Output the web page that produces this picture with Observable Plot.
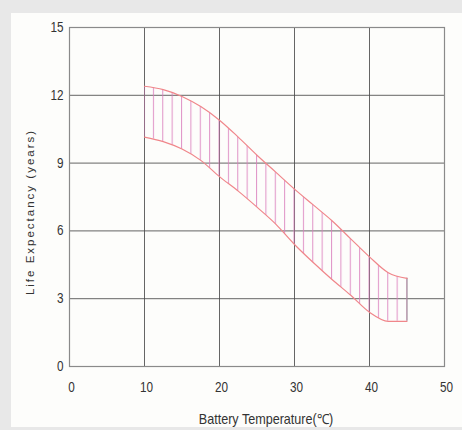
<!DOCTYPE html>
<html>
<head>
<meta charset="utf-8">
<script src="https://cdn.jsdelivr.net/npm/d3@7"></script>
<script src="https://cdn.jsdelivr.net/npm/@observablehq/plot@0.6"></script>
<style>
  html, body { margin: 0; padding: 0; background: #e8e8e8; width: 462px; height: 430px; overflow: hidden; }
  #panel { position: absolute; left: 11px; top: 13px; width: 451px; height: 414px; background: #fdfdfb; }
  #chart { position: absolute; left: 0; top: 0; }
</style>
</head>
<body>
<div id="panel"></div>
<div id="chart"></div>
<script>
// Battery temperature (°C)
const temps = [10, 12.5, 15, 17.5, 20, 22.5, 25, 27.5, 30, 32.5, 35, 37.5, 40, 42.5, 45];
// Upper bound of life expectancy (years)
const upperLife = [12.4, 12.25, 11.95, 11.5, 10.9, 10.15, 9.35, 8.6, 7.85, 7.15, 6.45, 5.65, 4.85, 4.15, 3.9];
// Lower bound of life expectancy (years)
const lowerLife = [10.15, 9.95, 9.62, 9.12, 8.4, 7.76, 7.05, 6.3, 5.4, 4.6, 3.85, 3.15, 2.4, 2.0, 2.0];
const xTicks = [0, 10, 20, 30, 40, 50];
const yTicks = [0, 3, 6, 9, 12, 15];
const xLabel = "Battery Temperature(℃)";
const yLabel = "Life Expectancy (years)";

const data = temps.map((t, i) => ({t, hi: upperLife[i], lo: lowerLife[i]}));
const last = [data[data.length - 1]];

const outline = "#f0868a";
const hatch = "#d97cbc";
const font = "'Liberation Sans', Arial, sans-serif";

const plot = Plot.plot({
  width: 462,
  height: 430,
  marginLeft: 69,
  marginRight: 18,
  marginTop: 27,
  marginBottom: 64,
  style: {fontFamily: font, fontSize: "14px", color: "#333", background: "transparent", overflow: "visible"},
  x: {domain: [0, 50], ticks: xTicks, label: null},
  y: {domain: [0, 15], ticks: yTicks, label: null},
  marks: [
    Plot.gridX(xTicks, {stroke: "#4a4a4a", strokeOpacity: 0.85}),
    Plot.gridY(yTicks, {stroke: "#4a4a4a", strokeOpacity: 0.85}),
    Plot.frame({stroke: "#8a8a8a", strokeWidth: 1.2}),
    Plot.areaY(data, {x: "t", y1: "lo", y2: "hi", fill: "url(#hatch)", curve: "monotone-x"}),
    Plot.ruleX(last, {x: "t", y1: "lo", y2: "hi", stroke: "#a08a9a", strokeWidth: 1.2}),
    Plot.lineY(data, {x: "t", y: "hi", stroke: outline, strokeWidth: 1.2, curve: "monotone-x"}),
    Plot.lineY(data, {x: "t", y: "lo", stroke: outline, strokeWidth: 1.2, curve: "monotone-x"}),
    Plot.axisX(xTicks, {tickSize: 0, tickPadding: 16, dx: 2, label: null, fill: "#333", fontSize: 14, className: "narrow-tick"}),
    Plot.axisY(yTicks, {tickSize: 0, tickPadding: 6, label: null, fill: "#333", fontSize: 14, className: "narrow-tick"}),
    Plot.text([xLabel], {frameAnchor: "bottom", dx: 9, dy: 57, fontSize: 14, fill: "#333", className: "narrow-label"}),
    Plot.text([yLabel], {frameAnchor: "left", textAnchor: "middle", rotate: -90, dx: -39, dy: 15, fontSize: 11.5, fill: "#333", className: "ylab"})
  ]
});

// hatch pattern aligned to the x scale
const xs = plot.scale("x");
const step = xs.apply(11.25) - xs.apply(10);
const svg = d3.select(plot);
const defs = svg.insert("defs", ":first-child");
const pat = defs.append("pattern")
  .attr("id", "hatch")
  .attr("patternUnits", "userSpaceOnUse")
  .attr("x", xs.apply(10) - 0.5)
  .attr("y", 0)
  .attr("width", step)
  .attr("height", 10);
pat.append("line")
  .attr("x1", 0.5).attr("x2", 0.5).attr("y1", 0).attr("y2", 10)
  .attr("stroke", hatch).attr("stroke-width", 1.1).attr("stroke-opacity", 0.8);

// condensed look of the reference's lettering
function squeeze(sel, sx) {
  sel.each(function () {
    const t = this.getAttribute("transform") || "";
    this.setAttribute("transform", (t + ` scale(${sx},1)`).trim());
  });
}
squeeze(svg.selectAll(".narrow-tick text"), 0.84);
squeeze(svg.selectAll(".narrow-label text"), 0.9);
svg.selectAll(".ylab text").style("letter-spacing", "2px");

document.getElementById("chart").appendChild(plot);
</script>
</body>
</html>
